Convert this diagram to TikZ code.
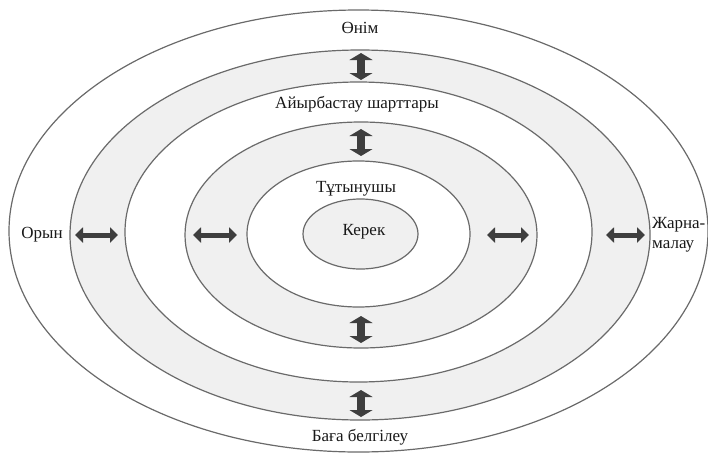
\documentclass[tikz,border=0pt]{standalone}
\usepackage{fontspec}
\setmainfont{Liberation Serif}
\usetikzlibrary{arrows.meta}
\definecolor{ringgray}{HTML}{F0F0F0}
\definecolor{ringline}{HTML}{6A6A6A}
\definecolor{arrowdark}{HTML}{3E3E3E}
\begin{document}
\begin{tikzpicture}[x=1pt,y=-1pt,
  ring/.style={draw=ringline,line width=1.2pt},
  whitering/.style={ring,fill=white},
  grayring/.style={ring,fill=ringgray},
  lbl/.style={font=\rmfamily\fontsize{17}{20}\selectfont,text=black!90,inner sep=0pt},
  harrow/.style={draw=arrowdark,line width=5pt,
    {Triangle[length=8pt,width=15pt]}-{Triangle[length=8pt,width=15pt]}},
  varrow/.style={draw=arrowdark,line width=8pt,
    {Triangle[length=7pt,width=23pt]}-{Triangle[length=7pt,width=23pt]}}]
\useasboundingbox (0,0) rectangle (708,455);

% concentric rings, outermost first
\path[whitering] (358.5,231) ellipse [x radius=349.5, y radius=221];
\path[grayring]  (360,235)   ellipse [x radius=290,   y radius=185];
\path[whitering] (358.5,232) ellipse [x radius=233.5, y radius=150];
\path[grayring]  (361,235)   ellipse [x radius=176,   y radius=113];
\path[whitering] (358.5,234) ellipse [x radius=111.5, y radius=73];
\path[grayring]  (360.5,234) ellipse [x radius=57.5,  y radius=35];

% labels
\node[lbl] (product)  at (360,28)  {Өнім};
\node[lbl] (exchange) at (357,104) {Айырбастау шарттары};
\node[lbl] (consumer) at (356,189) {Тұтынушы};
\node[lbl] (need)     at (364,232) {Керек};
\node[lbl] (place)    at (42,235)  {Орын};
\node[lbl,align=left,anchor=west] (promo) at (652,235) {Жарна-\\малау};
\node[lbl] (price)    at (360,437) {Баға белгілеу};

% arrow end points
\coordinate (v1a) at (361,53);  \coordinate (v1b) at (361,80);
\coordinate (v2a) at (361,129); \coordinate (v2b) at (361,156);
\coordinate (v3a) at (361,316); \coordinate (v3b) at (361,343);
\coordinate (v4a) at (361,390); \coordinate (v4b) at (361,417);
\coordinate (h1a) at (75,235);  \coordinate (h1b) at (118,235);
\coordinate (h2a) at (193,235); \coordinate (h2b) at (237,235);
\coordinate (h3a) at (487,235); \coordinate (h3b) at (529,235);
\coordinate (h4a) at (606,235); \coordinate (h4b) at (645,235);

% two-way arrows between the rings
\draw[varrow] (v1a) -- (v1b);
\draw[varrow] (v2a) -- (v2b);
\draw[varrow] (v3a) -- (v3b);
\draw[varrow] (v4a) -- (v4b);
\draw[harrow] (h1a) -- (h1b);
\draw[harrow] (h2a) -- (h2b);
\draw[harrow] (h3a) -- (h3b);
\draw[harrow] (h4a) -- (h4b);
\end{tikzpicture}
\end{document}
